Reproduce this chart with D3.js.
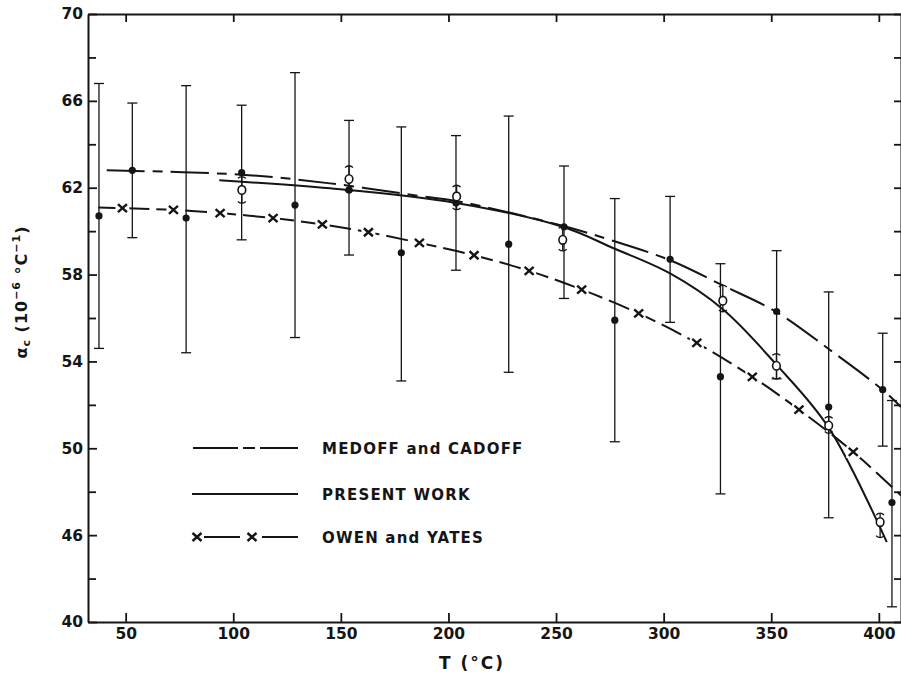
<!DOCTYPE html>
<html>
<head>
<meta charset="utf-8">
<script src="https://cdn.jsdelivr.net/npm/d3@7"></script>
<style>
  html, body { margin: 0; padding: 0; background: #fff; }
  svg { display: block; }
  text { font-family: "DejaVu Sans", sans-serif; font-weight: bold; fill: #151515; }
</style>
</head>
<body>
<svg id="chart" width="901" height="684"></svg>
<script>
// ---------- data ----------
// Present work: individual measurements (filled circles) with error bars
const presentT   = [37.6, 53.1, 78.1, 103.9, 128.7, 153.8, 178.1, 203.5, 228.0, 253.7, 277.3, 303.0, 326.4, 352.5, 376.7, 401.8, 406.1];
const presentVal = [60.7, 62.8, 60.6, 62.7, 61.2, 61.9, 59.0, 61.3, 59.4, 60.2, 55.9, 58.7, 53.3, 56.3, 51.9, 52.7, 47.5];
const presentHi  = [66.8, 65.9, 66.7, 65.8, 67.3, 65.1, 64.8, 64.4, 65.3, 63.0, 61.5, 61.6, 58.5, 59.1, 57.2, 55.3, 52.2];
const presentLo  = [54.6, 59.7, 54.4, 59.6, 55.1, 58.9, 53.1, 58.2, 53.5, 56.9, 50.3, 55.8, 47.9, 53.2, 46.8, 50.1, 42.7];

// Present work: averaged values (open circles) with small error bars
const openT   = [104.0, 153.8, 203.8, 253.1, 327.5, 352.4, 376.7, 400.6];
const openVal = [61.9, 62.4, 61.6, 59.6, 56.8, 53.8, 51.05, 46.6];
const openHi  = [62.5, 63.0, 62.1, 60.2, 57.5, 54.35, 51.45, 47.0];
const openLo  = [61.3, 61.8, 61.0, 59.1, 56.3, 53.2, 50.7, 45.9];

// Curves
const medoffT   = [41.2, 104, 145, 188, 203, 253, 275, 303, 327.5, 352.5, 377, 402, 410.3];
const medoffVal = [62.8, 62.6, 62.2, 61.6, 61.4, 60.25, 59.6, 58.66, 57.5, 56.27, 54.55, 52.67, 51.9];

const presentCurveT   = [93.5, 145, 203.5, 253, 277, 303, 327.5, 352.4, 376.7, 403.7];
const presentCurveVal = [62.34, 61.97, 61.3, 60.2, 59.2, 58.05, 56.4, 53.85, 50.95, 45.68];

const owenCurveT   = [37.3, 48.5, 72.2, 93.9, 118.5, 141.4, 162.8, 186.5, 211.9, 237.5, 261.9, 288.4, 315.4, 341.2, 362.9, 388.1, 410.3];
const owenCurveVal = [61.09, 61.06, 60.98, 60.83, 60.6, 60.31, 59.95, 59.46, 58.89, 58.17, 57.31, 56.21, 54.85, 53.29, 51.78, 49.83, 47.83];
const owenMarkT   = [48.5, 72.2, 93.9, 118.5, 141.4, 162.8, 186.5, 211.9, 237.5, 261.9, 288.4, 315.4, 341.2, 362.9, 388.1];
const owenMarkVal = [61.06, 60.98, 60.83, 60.6, 60.31, 59.95, 59.46, 58.89, 58.17, 57.31, 56.21, 54.85, 53.29, 51.78, 49.83];

// Axis ticks
const xTicks = [50, 100, 150, 200, 250, 300, 350, 400];
const xTickLabels = ["50", "100", "150", "200", "250", "300", "350", "400"];
const yTicks = [42, 46, 50, 54, 58, 62, 66, 70];
const yTickLabels = ["40", "46", "50", "54", "58", "62", "66", "70"];
const yMinorTicks = [44, 48, 52, 56, 60, 64, 68];

const legendLabels = ["MEDOFF and CADOFF", "PRESENT WORK", "OWEN and YATES"];

// ---------- drawing ----------
const ink = "#151515";
const svg = d3.select("#chart");
const x = d3.scaleLinear().domain([32.5, 410.3]).range([88, 901]);
const y = d3.scaleLinear().domain([42, 70]).range([622, 14]);

function styleAxis(g) {
  g.select(".domain").attr("stroke", ink).attr("stroke-width", 2);
  g.selectAll(".tick line").attr("stroke", ink).attr("stroke-width", 1.8);
  g.selectAll("text").attr("font-family", "DejaVu Sans, sans-serif")
    .attr("font-weight", "bold").attr("font-size", 15.5).attr("fill", ink);
}

// bottom axis
svg.append("g").attr("transform", "translate(0,622)")
  .call(d3.axisBottom(x).tickValues(xTicks).tickFormat((d, i) => xTickLabels[i])
    .tickSizeInner(-9).tickSizeOuter(0).tickPadding(6))
  .call(styleAxis);
// top axis
svg.append("g").attr("transform", "translate(0,14)")
  .call(d3.axisTop(x).tickValues(xTicks).tickFormat("")
    .tickSizeInner(-8).tickSizeOuter(0))
  .call(styleAxis);
// left axis
svg.append("g").attr("transform", "translate(88,0)")
  .call(d3.axisLeft(y).tickValues(yTicks).tickFormat((d, i) => yTickLabels[i])
    .tickSizeInner(-9).tickSizeOuter(0).tickPadding(5))
  .call(styleAxis);
svg.append("g").attr("transform", "translate(88,0)")
  .call(d3.axisLeft(y).tickValues(yMinorTicks).tickFormat("").tickSizeInner(-8).tickSizeOuter(0))
  .call(styleAxis).call(g => g.select(".domain").remove());
// right axis ticks
svg.append("g").attr("transform", "translate(901,0)")
  .call(d3.axisRight(y).tickValues(yTicks.concat(yMinorTicks)).tickFormat("").tickSizeInner(-7).tickSizeOuter(0))
  .call(styleAxis);

// axis titles
svg.append("text").attr("x", 472).attr("y", 669).attr("text-anchor", "middle")
  .attr("font-size", 17).attr("letter-spacing", 2).text("T (°C)");

const yl = svg.append("text").attr("transform", "translate(27,292) rotate(-90)")
  .attr("text-anchor", "middle").attr("font-size", 16).attr("letter-spacing", 1);
yl.append("tspan").text("α");
yl.append("tspan").attr("font-size", 11).attr("dy", 3).text("c");
yl.append("tspan").attr("dy", -3).text("   (10");
yl.append("tspan").attr("font-size", 11).attr("dy", -7).text("−6");
yl.append("tspan").attr("dy", 7).text(" °C");
yl.append("tspan").attr("font-size", 11).attr("dy", -7).text("−1");
yl.append("tspan").attr("dy", 7).text(")");

const plot = svg.append("g");
const line = d3.line().x(d => x(d[0])).y(d => y(d[1])).curve(d3.curveCatmullRom.alpha(0.5));

// Medoff and Cadoff curve (long-short dash)
plot.append("path").datum(medoffT.map((t, i) => [t, medoffVal[i]]))
  .attr("d", line).attr("fill", "none").attr("stroke", ink).attr("stroke-width", 2)
  .attr("stroke-dasharray", "38,8,10,8");

// Present work curve (solid)
plot.append("path").datum(presentCurveT.map((t, i) => [t, presentCurveVal[i]]))
  .attr("d", line).attr("fill", "none").attr("stroke", ink).attr("stroke-width", 2);

// Owen and Yates curve (dashed with x markers)
plot.append("path").datum(owenCurveT.map((t, i) => [t, owenCurveVal[i]]))
  .attr("d", line).attr("fill", "none").attr("stroke", ink).attr("stroke-width", 2)
  .attr("stroke-dasharray", "22,7");

function drawX(g, cx, cy) {
  g.append("rect").attr("x", cx - 7).attr("y", cy - 6).attr("width", 14).attr("height", 12).attr("fill", "#fff");
  g.append("path").attr("d", `M${cx-4.5},${cy-4}L${cx+4.5},${cy+4}M${cx-4.5},${cy+4}L${cx+4.5},${cy-4}`)
    .attr("stroke", ink).attr("stroke-width", 2.4).attr("fill", "none");
}
const owenG = plot.append("g");
owenMarkT.forEach((t, i) => drawX(owenG, x(t), y(owenMarkVal[i])));

// error bars for filled points
const eb = plot.append("g").attr("stroke", ink).attr("stroke-width", 1.3).attr("fill", "none");
presentT.forEach((t, i) => {
  const cx = x(t);
  eb.append("line").attr("x1", cx).attr("x2", cx).attr("y1", y(presentHi[i])).attr("y2", y(presentLo[i]));
  eb.append("line").attr("x1", cx - 5).attr("x2", cx + 5).attr("y1", y(presentHi[i])).attr("y2", y(presentHi[i]));
  eb.append("line").attr("x1", cx - 5).attr("x2", cx + 5).attr("y1", y(presentLo[i])).attr("y2", y(presentLo[i]));
});
plot.append("g").selectAll("circle").data(presentT).join("circle")
  .attr("cx", d => x(d)).attr("cy", (d, i) => y(presentVal[i])).attr("r", 3.6).attr("fill", ink);

// open circles with small error bars
const ob = plot.append("g").attr("stroke", ink).attr("stroke-width", 1.3).attr("fill", "none");
openT.forEach((t, i) => {
  const cx = x(t);
  ob.append("line").attr("x1", cx).attr("x2", cx).attr("y1", y(openHi[i])).attr("y2", y(openLo[i]));
  ob.append("path").attr("d", `M${cx-4},${y(openHi[i])+1.5}Q${cx},${y(openHi[i])-2} ${cx+4},${y(openHi[i])+1.5}`);
  ob.append("path").attr("d", `M${cx-4},${y(openLo[i])-1.5}Q${cx},${y(openLo[i])+2} ${cx+4},${y(openLo[i])-1.5}`);
});
plot.append("g").selectAll("ellipse").data(openT).join("ellipse")
  .attr("cx", d => x(d)).attr("cy", (d, i) => y(openVal[i])).attr("rx", 3.8).attr("ry", 4.3)
  .attr("fill", "#fff").attr("stroke", ink).attr("stroke-width", 1.6);

// ---------- legend ----------
const lg = svg.append("g");
const rows = [448, 494, 537];
lg.append("line").attr("x1", 193).attr("x2", 298).attr("y1", rows[0]).attr("y2", rows[0])
  .attr("stroke", ink).attr("stroke-width", 2).attr("stroke-dasharray", "45,5,12,5,60");
lg.append("line").attr("x1", 192).attr("x2", 298).attr("y1", rows[1]).attr("y2", rows[1])
  .attr("stroke", ink).attr("stroke-width", 2);
lg.append("line").attr("x1", 203).attr("x2", 240).attr("y1", rows[2]).attr("y2", rows[2])
  .attr("stroke", ink).attr("stroke-width", 2);
lg.append("line").attr("x1", 262).attr("x2", 298).attr("y1", rows[2]).attr("y2", rows[2])
  .attr("stroke", ink).attr("stroke-width", 2);
drawX(lg, 197, rows[2]);
drawX(lg, 252, rows[2]);
lg.selectAll("text.leg").data(legendLabels).join("text").attr("class", "leg")
  .attr("x", 322).attr("y", (d, i) => rows[i] + 6).attr("font-size", 15)
  .attr("letter-spacing", 1.2).text(d => d);
</script>
</body>
</html>
